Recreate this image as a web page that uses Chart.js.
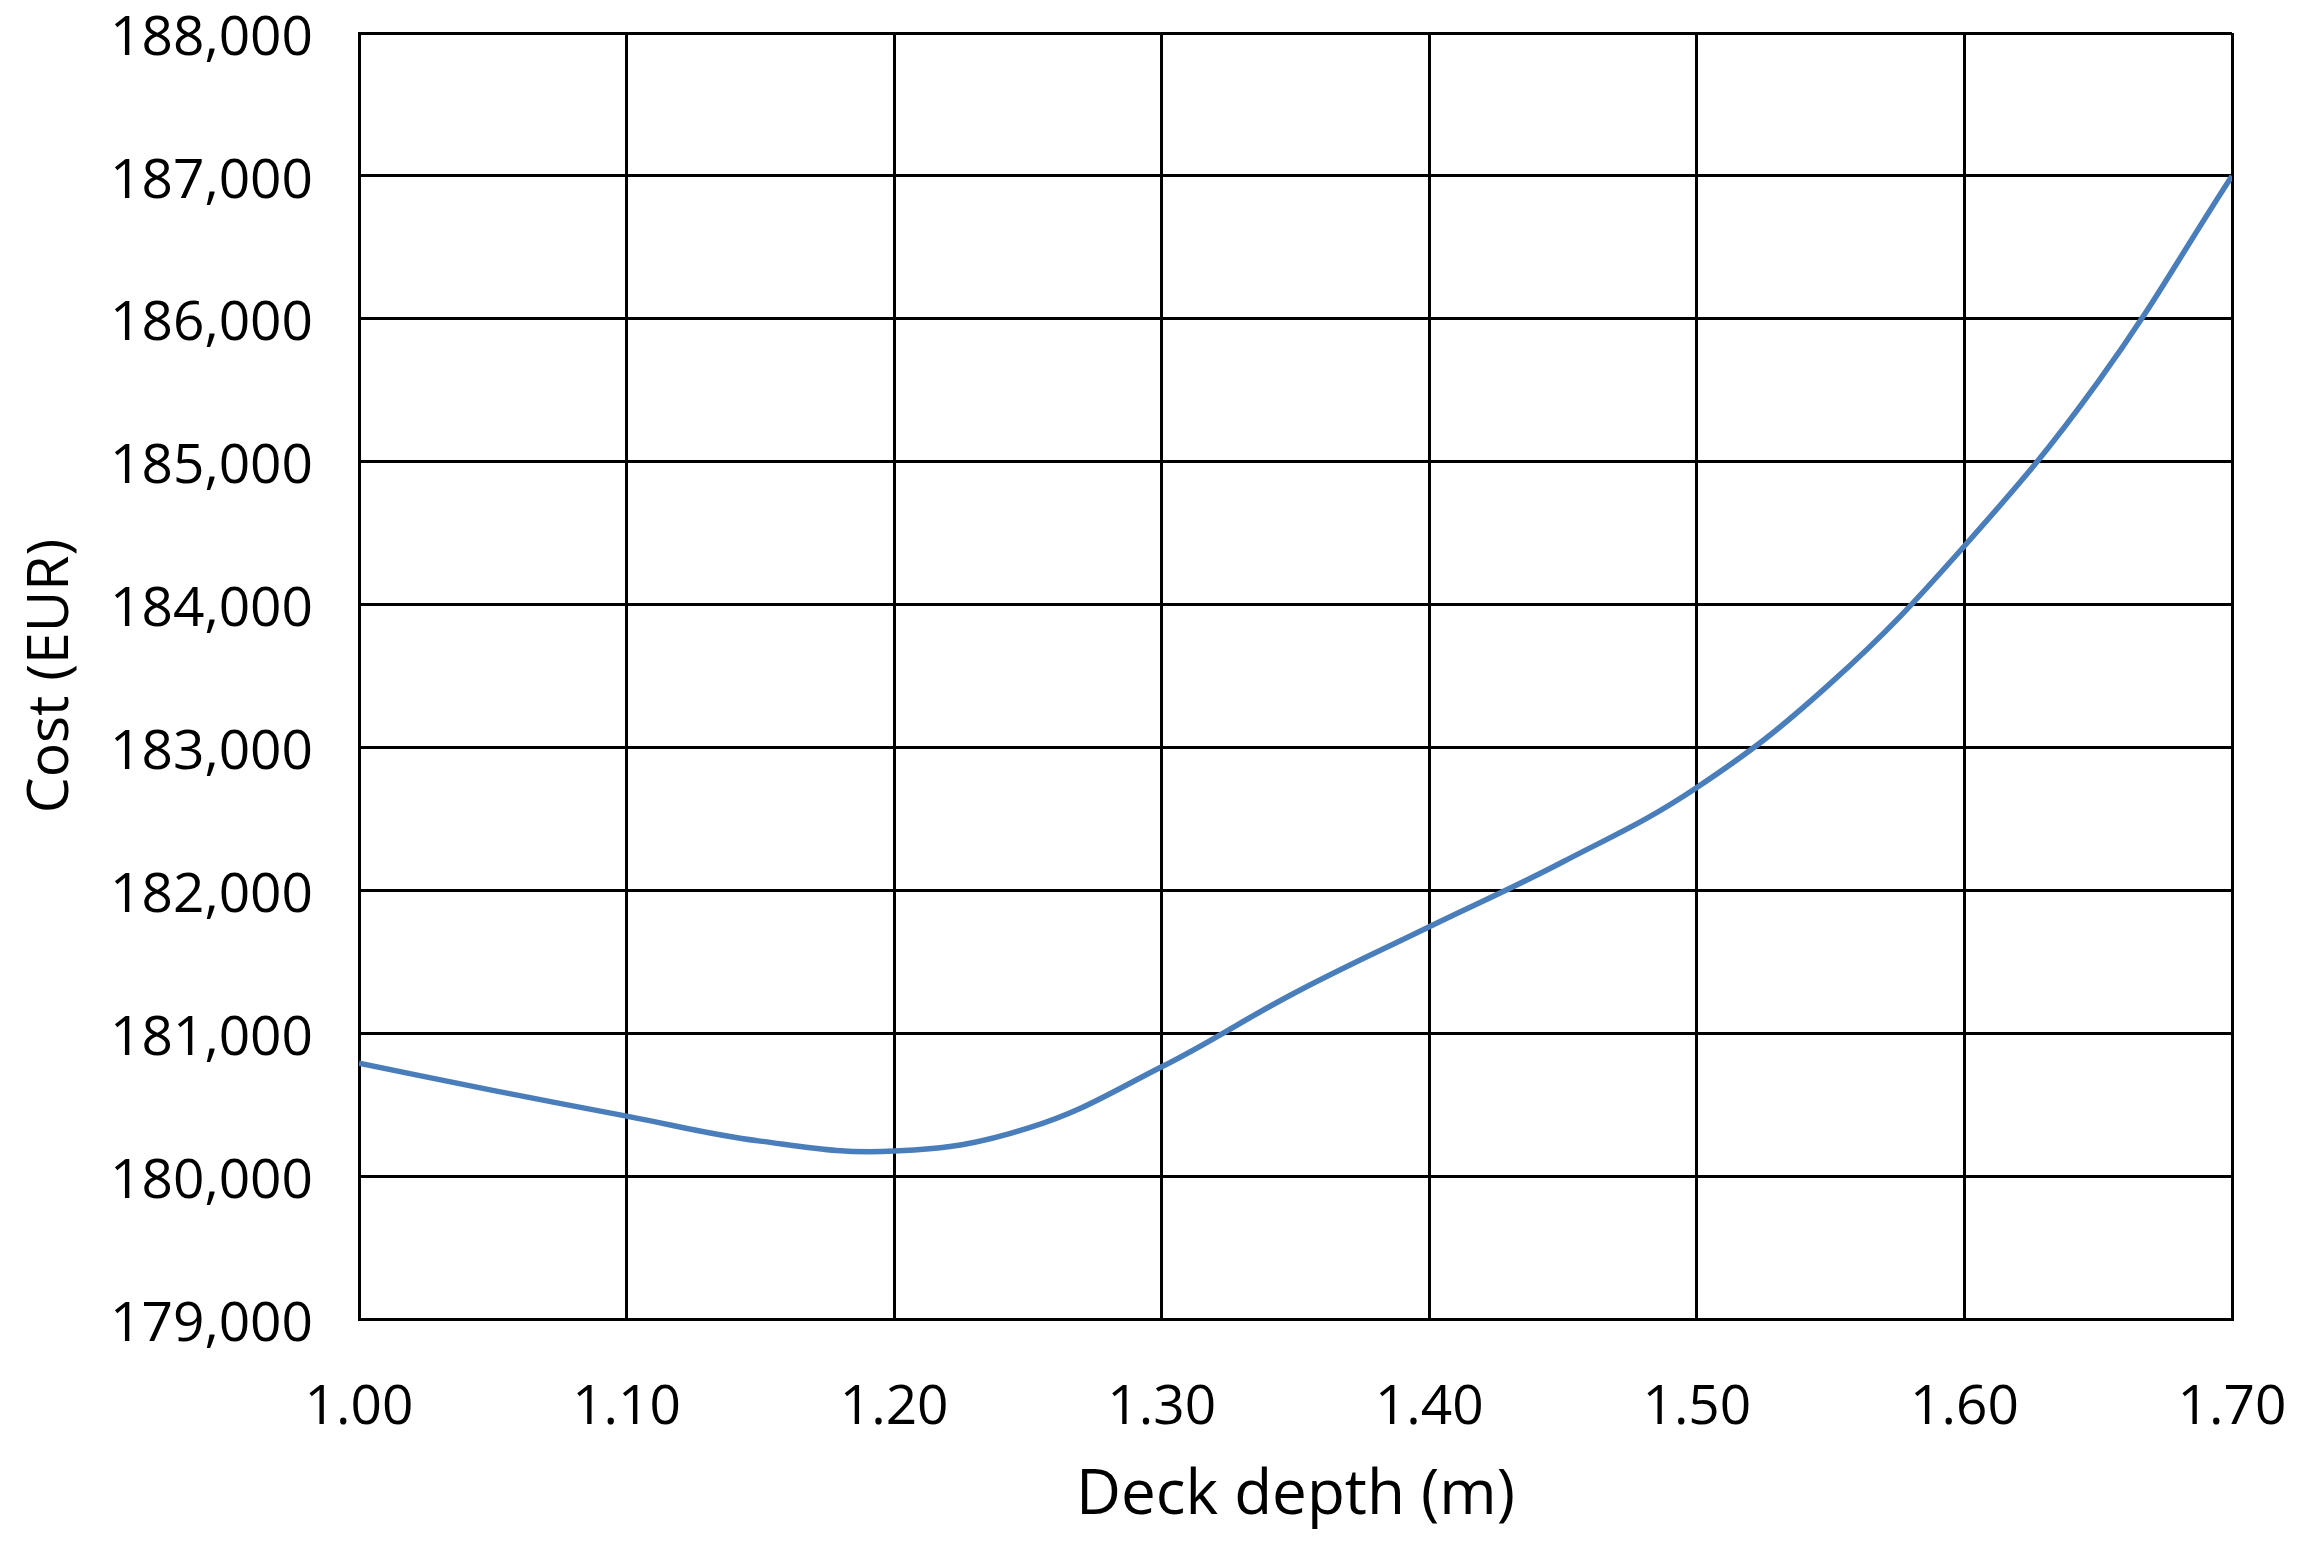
<!DOCTYPE html>
<html>
<head>
<meta charset="utf-8">
<script src="https://cdn.jsdelivr.net/npm/chart.js@4.4.1/dist/chart.umd.min.js"></script>
<style>
  html, body { margin: 0; padding: 0; background: #fff; }
  #wrap { width: 2300px; height: 1546px; }
</style>
</head>
<body>
<div id="wrap"><canvas id="grafico" width="2300" height="1546"></canvas></div>
<script>
// datos
const depths = [1.00, 1.05, 1.10, 1.15, 1.20, 1.25, 1.30, 1.35, 1.40, 1.45, 1.50, 1.55, 1.60, 1.65, 1.70];
const costs = [180790, 180600, 180420, 180245, 180175, 180335, 180765, 181285, 181745, 182200, 182720, 183450, 184410, 185560, 187000];
const xTicks = [1.00, 1.10, 1.20, 1.30, 1.40, 1.50, 1.60, 1.70];
const yTicks = [179000, 180000, 181000, 182000, 183000, 184000, 185000, 186000, 187000, 188000];

const fuente = "'Open Sans', sans-serif";
Chart.defaults.font.family = fuente;
Chart.defaults.color = "#000";

const puntos = depths.map((d, i) => ({ x: d, y: costs[i] }));

new Chart(document.getElementById("grafico"), {
  type: "line",
  data: {
    datasets: [{
      data: puntos,
      borderColor: "#4a7ebb",
      borderWidth: 5.5,
      pointRadius: 0,
      tension: 0.4,
      fill: false
    }]
  },
  options: {
    responsive: false,
    animation: false,
    layout: { padding: { left: 0, top: 33, right: 68, bottom: 0 } },
    plugins: { legend: { display: false }, tooltip: { enabled: false } },
    scales: {
      x: {
        type: "linear",
        min: xTicks[0],
        max: xTicks[xTicks.length - 1],
        afterBuildTicks: s => { s.ticks = xTicks.map(v => ({ value: v })); },
        afterFit: s => { s.height = 227; s.paddingLeft = 0; s.paddingRight = 0; },
        grid: { color: "#000", lineWidth: 3, drawTicks: false },
        border: { color: "#000", width: 3 },
        ticks: {
          padding: 56,
          font: { size: 55 },
          callback: v => Number(v).toFixed(2)
        },
        title: {
          display: true,
          text: "Deck depth (m)",
          font: { size: 62 },
          padding: { top: 0, bottom: 12 }
        }
      },
      y: {
        min: yTicks[0],
        max: yTicks[yTicks.length - 1],
        afterBuildTicks: s => { s.ticks = yTicks.map(v => ({ value: v })); },
        afterFit: s => { s.width = 359; s.paddingTop = 0; s.paddingBottom = 0; },
        grid: { color: "#000", lineWidth: 3, drawTicks: false },
        border: { color: "#000", width: 3 },
        ticks: {
          padding: 46,
          labelOffset: 6,
          font: { size: 55 },
          callback: v => Number(v).toLocaleString("en-US")
        },
        title: {
          display: true,
          text: "Cost (EUR)",
          font: { size: 57 },
          padding: { top: 18, bottom: 0 }
        }
      }
    }
  }
});
</script>
</body>
</html>
